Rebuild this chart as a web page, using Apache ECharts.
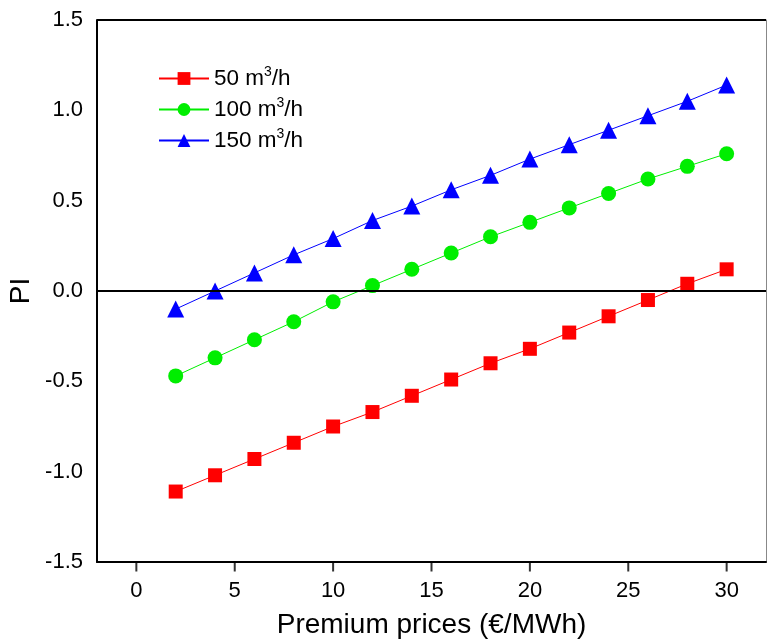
<!DOCTYPE html>
<html><head><meta charset="utf-8">
<script src="https://cdn.jsdelivr.net/npm/echarts@6/dist/echarts.min.js"></script>
<style>html,body{margin:0;padding:0;background:#fff}#c{width:767px;height:639px}</style>
</head><body><div id="c"></div>
<script>
const xValues = [2,4,6,8,10,12,14,16,18,20,22,24,26,28,30];
const s50 = [-1.11,-1.02,-0.93,-0.84,-0.75,-0.67,-0.58,-0.49,-0.40,-0.32,-0.23,-0.14,-0.05,0.04,0.12];
const s100 = [-0.47,-0.37,-0.27,-0.17,-0.06,0.03,0.12,0.21,0.30,0.38,0.46,0.54,0.62,0.69,0.76];
const s150 = [-0.10,0.00,0.10,0.20,0.29,0.39,0.47,0.56,0.64,0.73,0.81,0.89,0.97,1.05,1.14];
const xTicks = [0,5,10,15,20,25,30];
const xMin = -2, xMax = 32;
const yMin = -1.5, yMax = 1.5;
const seriesNames = ['50', '100', '150'];

const font = 'Liberation Sans, Arial, sans-serif';
const chart = echarts.init(document.getElementById('c'));
function pairs(v){ return xValues.map((x,i)=>[x,v[i]]); }
function mk(name, data, color, symbol, size){
  return {name, type:'line', data: pairs(data), symbol, symbolSize:size,
    lineStyle:{color, width:1}, itemStyle:{color}, animation:false, z:3};
}
const series = [
  mk(seriesNames[0], s50, '#ff0000', 'rect', 14),
  mk(seriesNames[1], s100, '#00ee00', 'circle', 15),
  mk(seriesNames[2], s150, '#0000ff', 'triangle', 17)
];
series[0].markLine = {silent:true, symbol:'none', label:{show:false},
  lineStyle:{color:'#000', width:2, type:'solid'}, data:[{yAxis:0},{yAxis:yMax}], animation:false};
// x-axis tick marks drawn below the bottom axis line
series.push({
  name:'ticks', type:'scatter', silent:true, clip:false, z:10, animation:false,
  data: xTicks.map(x => [x, yMin]),
  symbol:'rect', symbolSize:[2, 9], symbolOffset:[0, 5],
  itemStyle:{color:'#000'}
});

chart.setOption({
  animation:false,
  grid:{left:97, top:20, right:1, bottom:77, containLabel:false, outerBoundsMode:'none'},
  legend:{
    left:153, top:60, orient:'vertical', itemGap:6, itemWidth:50, itemHeight:16,
    data: seriesNames,
    formatter: n => n + ' m{sup|3}/h',
    textStyle:{fontFamily:font, fontSize:22.5, color:'#000',
      rich:{sup:{fontSize:14, verticalAlign:'bottom', padding:[0,0,13,0], fontFamily:font}}}
  },
  xAxis:{
    type:'value', min:xMin, max:xMax,
    name:'Premium prices (€/MWh)', nameLocation:'middle', nameGap:49,
    nameTextStyle:{fontFamily:font, fontSize:28, color:'#000'},
    axisLine:{show:true, onZero:false, lineStyle:{color:'#000', width:2}},
    axisTick:{show:false},
    axisLabel:{fontFamily:font, fontSize:22, color:'#000', margin:18, customValues:xTicks},
    splitLine:{show:false}
  },
  yAxis:[{
    type:'value', min:yMin, max:yMax, interval:0.5,
    name:'PI', nameLocation:'middle', nameGap:62, nameRotate:90, nameMoveOverlap:false,
    nameTextStyle:{fontFamily:font, fontSize:28, color:'#000'},
    axisLine:{show:true, onZero:false, lineStyle:{color:'#000', width:2}},
    axisTick:{show:false},
    axisLabel:{fontFamily:font, fontSize:22, color:'#000', margin:14, formatter:v=>v.toFixed(1)},
    splitLine:{show:false}
  },{
    type:'value', position:'right', min:yMin, max:yMax,
    axisLine:{show:true, onZero:false, lineStyle:{color:'#888', width:1}},
    axisTick:{show:false}, axisLabel:{show:false}, splitLine:{show:false}
  }],
  series
});
</script></body></html>
